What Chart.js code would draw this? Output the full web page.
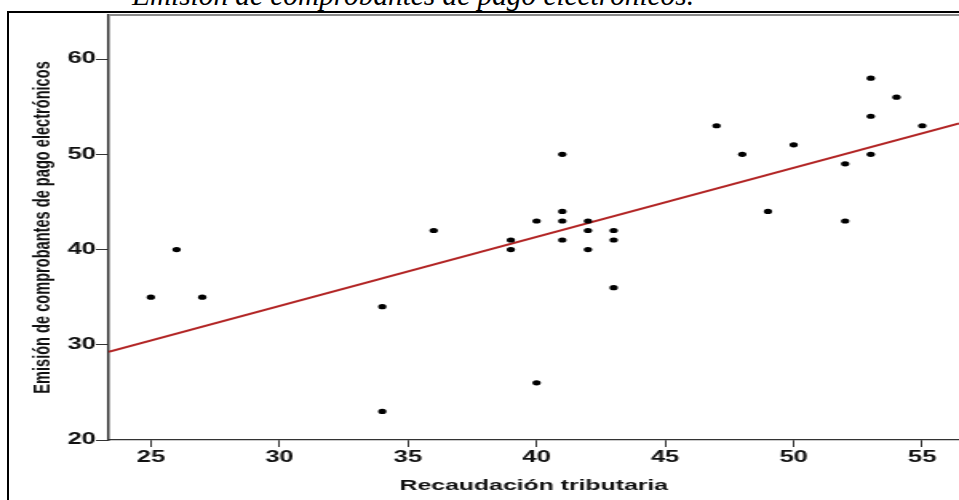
<!DOCTYPE html>
<html lang="es">
<head>
<meta charset="utf-8">
<title>Recaudación tributaria vs emisión de comprobantes</title>
<script src="https://cdn.jsdelivr.net/npm/chart.js@4/dist/chart.umd.min.js"></script>
<style>
  html, body { margin: 0; padding: 0; background: #fff; overflow: hidden; }
  body { width: 959px; height: 500px; position: relative; }
  #frame {
    position: absolute; left: 7px; top: 11px; right: -5px; bottom: -5px;
    border-left: 2px solid #000; border-top: 2px solid #000;
  }
  #titulo {
    position: absolute; left: 132px; top: -19px; white-space: nowrap;
    font: italic 29.3px/29px "Liberation Serif", "Times New Roman", serif; color: #000;
  }
  /* el grafico original esta estirado en horizontal */
  #wrap {
    position: absolute; left: 0; top: 0; width: 600px; height: 500px;
    transform: scaleX(1.59833); transform-origin: 0 0;
  }
</style>
</head>
<body>
<div id="frame"></div>
<div id="titulo">Emisión de comprobantes de pago electrónicos.</div>
<div id="wrap"><canvas id="grafico" width="600" height="500"></canvas></div>

<script>
// datos
const recaudacion = [25, 26, 27, 34, 34, 36, 39, 39, 40, 40, 41, 41, 41, 41, 42, 42, 42, 43, 43, 43, 47, 48, 49, 50, 52, 52, 53, 53, 53, 54, 55];
const emision     = [35, 40, 35, 34, 23, 42, 41, 40, 43, 26, 50, 44, 43, 41, 43, 42, 40, 42, 41, 36, 53, 50, 44, 51, 49, 43, 58, 54, 50, 56, 53];

// recta de ajuste (extremos)
const ajusteX = [23.36, 56.43];
const ajusteY = [29.26, 53.25];

// ejes
const xTicks = [25, 30, 35, 40, 45, 50, 55];
const yTicks = [20, 30, 40, 50, 60];
const xRange = [23.36, 56.43];
const yRange = [20, 64.63];

const puntos = recaudacion.map((x, i) => ({ x: x, y: emision[i] }));
const recta = ajusteX.map((x, i) => ({ x: x, y: ajusteY[i] }));

// linea gris superior del area de graficado
const bordeSuperior = {
    id: 'bordeSuperior',
    afterDraw(chart) {
        const { ctx, chartArea } = chart;
        ctx.save();
        ctx.strokeStyle = '#8a8a8a';
        ctx.lineWidth = 2;
        ctx.beginPath();
        ctx.moveTo(chartArea.left, chartArea.top);
        ctx.lineTo(chartArea.right, chartArea.top);
        ctx.stroke();
        ctx.restore();
    }
};

const fuenteTicks = { family: '"Liberation Sans", Arial, sans-serif', size: 16, weight: 'bold' };

new Chart(document.getElementById('grafico').getContext('2d'), {
    type: 'scatter',
    data: {
        datasets: [
            {
                data: recta,
                showLine: true,
                borderColor: '#b22525',
                borderWidth: 2,
                pointRadius: 0,
                order: 2
            },
            {
                data: puntos,
                backgroundColor: '#000',
                borderWidth: 0,
                pointRadius: 2.6,
                order: 1
            }
        ]
    },
    options: {
        responsive: false,
        devicePixelRatio: 1,
        animation: false,
        layout: { autoPadding: false, padding: { top: 15, left: 0, right: 0, bottom: 0 } },
        plugins: {
            legend: { display: false },
            tooltip: { enabled: false }
        },
        scales: {
            x: {
                type: 'linear',
                min: xRange[0],
                max: xRange[1],
                afterBuildTicks: (scale) => { scale.ticks = xTicks.map(v => ({ value: v })); },
                afterFit: (scale) => {
                    scale.height = 60;
                    scale.paddingLeft = 0;
                    scale.paddingRight = 0;
                },
                border: { display: true, color: '#333', width: 1.2 },
                grid: { drawOnChartArea: false, drawTicks: true, tickLength: 7, color: '#333', lineWidth: 1 },
                ticks: { color: '#111', font: fuenteTicks, padding: 1, maxRotation: 0 },
                title: {
                    display: true,
                    text: 'Recaudación tributaria',
                    color: '#111',
                    font: { family: '"Liberation Sans", Arial, sans-serif', size: 15.5, weight: 'bold' },
                    padding: { top: 0, bottom: 5 }
                }
            },
            y: {
                type: 'linear',
                min: yRange[0],
                max: yRange[1],
                afterBuildTicks: (scale) => { scale.ticks = yTicks.map(v => ({ value: v })); },
                afterFit: (scale) => {
                    scale.width = 68;
                    scale.paddingTop = 0;
                    scale.paddingBottom = 0;
                },
                border: { display: true, color: '#333', width: 1.5 },
                grid: { drawOnChartArea: false, drawTicks: true, tickLength: 8, color: '#333', lineWidth: 1 },
                ticks: { color: '#111', font: fuenteTicks, padding: 0 },
                title: {
                    display: true,
                    text: 'Emisión de comprobantes de pago electrónicos',
                    color: '#111',
                    font: { family: '"Liberation Sans", Arial, sans-serif', size: 14.6, weight: 'bold' },
                    padding: { top: 18.5, bottom: 0 }
                }
            }
        }
    },
    plugins: [bordeSuperior]
});
</script>
</body>
</html>
